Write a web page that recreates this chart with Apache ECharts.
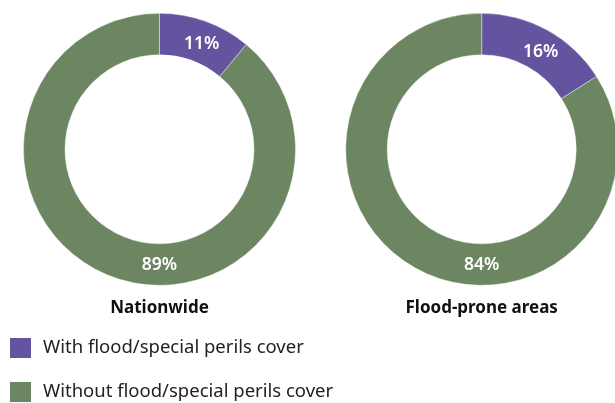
<!DOCTYPE html>
<html>
<head>
<meta charset="utf-8">
<script src="https://cdn.jsdelivr.net/npm/echarts@6/dist/echarts.min.js"></script>
<style>
  html, body { margin: 0; padding: 0; background: #fff; }
  #chart { width: 615px; height: 403px; }
</style>
</head>
<body>
<div id="chart"></div>
<script>
// Share of properties with / without flood or special perils cover
const coverTypes = ['With flood/special perils cover', 'Without flood/special perils cover'];
const regions = ['Nationwide', 'Flood-prone areas'];
const nationwideShares = [11, 89];
const floodProneShares = [16, 84];

const colors = ['#6454a0', '#6b8661'];
const FONT = '"Noto Sans", "Open Sans", sans-serif';

const OUTER = 136;
const INNER = 94.5;
const centers = [[159.5, 149.3], [481.7, 149.3]];

function donut(shares, center) {
  return {
    type: 'pie',
    center: center,
    radius: [INNER, OUTER],
    startAngle: 90,
    clockwise: true,
    avoidLabelOverlap: false,
    emphasis: { disabled: true },
    itemStyle: { borderColor: '#ffffff', borderWidth: 0.4 },
    label: {
      show: true,
      position: 'inside',
      formatter: '{c}%',
      color: '#ffffff',
      fontFamily: FONT,
      fontWeight: 600,
      fontSize: 17.5
    },
    labelLine: { show: false },
    labelLayout: function (p) {
      // the larger share's label sits at the bottom of the ring
      if (p.dataIndex === 1) {
        return {
          x: p.rect.x + p.rect.width / 2,
          y: p.rect.y + p.rect.height - (OUTER - INNER) / 2,
          align: 'center',
          verticalAlign: 'middle'
        };
      }
      return { dx: 2, dy: 6 };
    },
    data: coverTypes.map((name, i) => ({
      name: name,
      value: shares[i],
      itemStyle: { color: colors[i] }
    }))
  };
}

// one legend block per cover type, stacked on the left
const legends = coverTypes.map((name, i) => ({
  orient: 'vertical',
  left: 8,
  top: 336 + i * 44,
  padding: 0,
  itemWidth: 23,
  itemHeight: 22,
  icon: 'rect',
  selectedMode: false,
  data: [name],
  textStyle: {
    fontFamily: FONT,
    fontSize: 18.5,
    color: '#222222',
    padding: [0, 0, 0, 6]
  }
}));

const chart = echarts.init(document.getElementById('chart'), null, { renderer: 'canvas' });
chart.setOption({
  animation: false,
  title: regions.map((r, i) => ({
    text: r,
    left: centers[i][0],
    top: 300,
    padding: 0,
    textAlign: 'center',
    textStyle: { fontFamily: FONT, fontWeight: 'bold', fontSize: 17, color: '#111111' }
  })),
  legend: legends,
  series: [
    donut(nationwideShares, centers[0]),
    donut(floodProneShares, centers[1])
  ]
});
</script>
</body>
</html>
